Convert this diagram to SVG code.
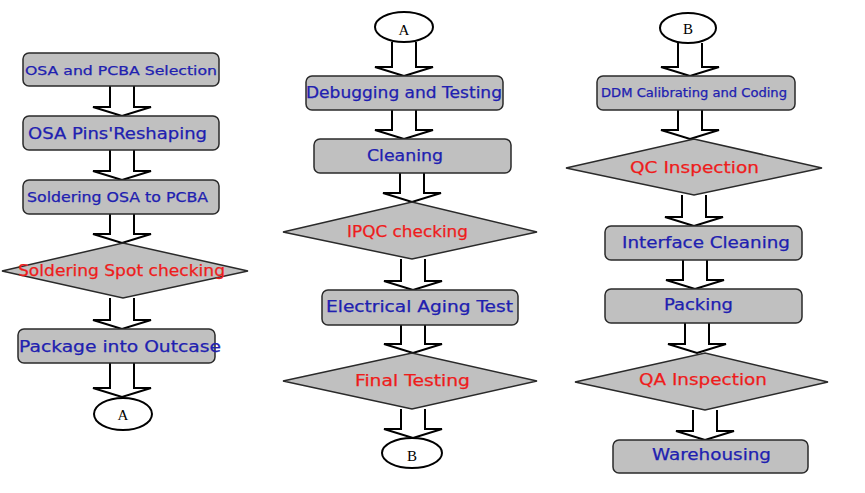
<svg xmlns="http://www.w3.org/2000/svg" width="865" height="493" viewBox="0 0 865 493">
<style>
.box{fill:#c0c0c0;stroke:#2a2a2a;stroke-width:1.5}
.dia{fill:#c0c0c0;stroke:#2a2a2a;stroke-width:1.5}
.circ{fill:#fff;stroke:#000;stroke-width:2}
.arr{fill:#fff;stroke:#000;stroke-width:2;stroke-linejoin:miter}
.bt{font-family:"DejaVu Sans",Verdana,sans-serif;fill:#2020b0;text-anchor:middle;stroke:#2020b0;stroke-width:0.25}
.rt{font-family:"DejaVu Sans",Verdana,sans-serif;fill:#ee1c1c;text-anchor:middle;stroke:#ee1c1c;stroke-width:0.25}
.ct{font-family:"Liberation Serif","Times New Roman",serif;fill:#000;text-anchor:middle;font-size:15px}
</style>
<rect width="865" height="493" fill="#fff"/>
<g id="connectors">
<path class="arr" d="M110,86V107H93L122,116L151,107H134V86"/>
<path class="arr" d="M110,150V171H93L122,180L151,171H134V150"/>
<path class="arr" d="M110,214V234H93L122,243L151,234H134V214"/>
<path class="arr" d="M110,298V320H93L122,329L151,320H134V298"/>
<path class="arr" d="M110,363V388H93L122,397L151,388H134V363"/>
<path class="arr" d="M392,42V67H375L404,76L433,67H416V42"/>
<path class="arr" d="M392,110V130H375L404,139L433,130H416V110"/>
<path class="arr" d="M400,173V193H383L412,202L441,193H424V173"/>
<path class="arr" d="M401,259V281H384L413,290L442,281H425V259"/>
<path class="arr" d="M401,325V344H384L413,353L442,344H425V325"/>
<path class="arr" d="M401,409V429H384L413,438L442,429H425V409"/>
<path class="arr" d="M678,43V67H661L690,76L719,67H702V43"/>
<path class="arr" d="M678,110V130H661L690,139L719,130H702V110"/>
<path class="arr" d="M682,195V217H665L694,226L723,217H706V195"/>
<path class="arr" d="M683,260V280H666L695,289L724,280H707V260"/>
<path class="arr" d="M685,323V344H668L697,353L726,344H709V323"/>
<path class="arr" d="M693,410V431H676L705,440L734,431H717V410"/>
</g>
<g id="n1"><rect class="box" x="23" y="53" width="196" height="33" rx="6"/><text class="bt" x="121" y="75" font-size="13" textLength="192" lengthAdjust="spacingAndGlyphs">OSA and PCBA Selection</text></g>
<g id="n2"><rect class="box" x="23" y="116" width="196" height="34" rx="6"/><text class="bt" x="117.5" y="138.5" font-size="16" textLength="179" lengthAdjust="spacingAndGlyphs">OSA Pins'Reshaping</text></g>
<g id="n3"><rect class="box" x="23" y="180" width="196" height="34" rx="6"/><text class="bt" x="117.5" y="202" font-size="13.5" textLength="181" lengthAdjust="spacingAndGlyphs">Soldering OSA to PCBA</text></g>
<g id="n4"><polygon class="dia" points="2,271 123,243 248,271 123,298"/><text class="rt" x="121.5" y="276" font-size="15" textLength="207" lengthAdjust="spacingAndGlyphs">Soldering Spot checking</text></g>
<g id="n5"><rect class="box" x="18" y="329" width="197" height="34" rx="6"/><text class="bt" x="120" y="351.5" font-size="16" textLength="202" lengthAdjust="spacingAndGlyphs">Package into Outcase</text></g>
<g id="n6"><ellipse class="circ" cx="123" cy="414" rx="29" ry="16"/><text class="ct" x="123" y="419.5">A</text></g>
<g id="n7"><ellipse class="circ" cx="404" cy="27" rx="29" ry="15"/><text class="ct" x="404" y="35">A</text></g>
<g id="n8"><rect class="box" x="306" y="76" width="197" height="34" rx="6"/><text class="bt" x="404" y="98" font-size="15" textLength="196" lengthAdjust="spacingAndGlyphs">Debugging and Testing</text></g>
<g id="n9"><rect class="box" x="314" y="139" width="197" height="34" rx="6"/><text class="bt" x="405" y="161" font-size="15" textLength="76" lengthAdjust="spacingAndGlyphs">Cleaning</text></g>
<g id="n10"><polygon class="dia" points="283,232 412,202 537,232 412,259"/><text class="rt" x="407.5" y="236.5" font-size="15" textLength="121" lengthAdjust="spacingAndGlyphs">IPQC checking</text></g>
<g id="n11"><rect class="box" x="322" y="290" width="196" height="35" rx="6"/><text class="bt" x="419.5" y="312" font-size="15" textLength="187" lengthAdjust="spacingAndGlyphs">Electrical Aging Test</text></g>
<g id="n12"><polygon class="dia" points="283,381 412,353 537,381 412,409"/><text class="rt" x="412.5" y="386" font-size="15" textLength="115" lengthAdjust="spacingAndGlyphs">Final Testing</text></g>
<g id="n13"><ellipse class="circ" cx="412" cy="453" rx="30" ry="15"/><text class="ct" x="412" y="461">B</text></g>
<g id="n14"><ellipse class="circ" cx="688" cy="28" rx="28" ry="15"/><text class="ct" x="688" y="34">B</text></g>
<g id="n15"><rect class="box" x="597" y="76" width="198" height="34" rx="6"/><text class="bt" x="694" y="97" font-size="11.5" textLength="186" lengthAdjust="spacingAndGlyphs">DDM Calibrating and Coding</text></g>
<g id="n16"><polygon class="dia" points="566,168 694,139 822,168 694,195"/><text class="rt" x="694.5" y="172.5" font-size="16" textLength="129" lengthAdjust="spacingAndGlyphs">QC Inspection</text></g>
<g id="n17"><rect class="box" x="605" y="226" width="197" height="34" rx="6"/><text class="bt" x="706" y="247.5" font-size="15" textLength="168" lengthAdjust="spacingAndGlyphs">Interface Cleaning</text></g>
<g id="n18"><rect class="box" x="605" y="289" width="197" height="34" rx="6"/><text class="bt" x="698.5" y="309.5" font-size="15" textLength="69" lengthAdjust="spacingAndGlyphs">Packing</text></g>
<g id="n19"><polygon class="dia" points="575,382 705,353 828,382 705,410"/><text class="rt" x="703" y="384.5" font-size="16" textLength="128" lengthAdjust="spacingAndGlyphs">QA Inspection</text></g>
<g id="n20"><rect class="box" x="613" y="440" width="195" height="33" rx="6"/><text class="bt" x="711.5" y="459.5" font-size="16" textLength="119" lengthAdjust="spacingAndGlyphs">Warehousing</text></g>
</svg>
